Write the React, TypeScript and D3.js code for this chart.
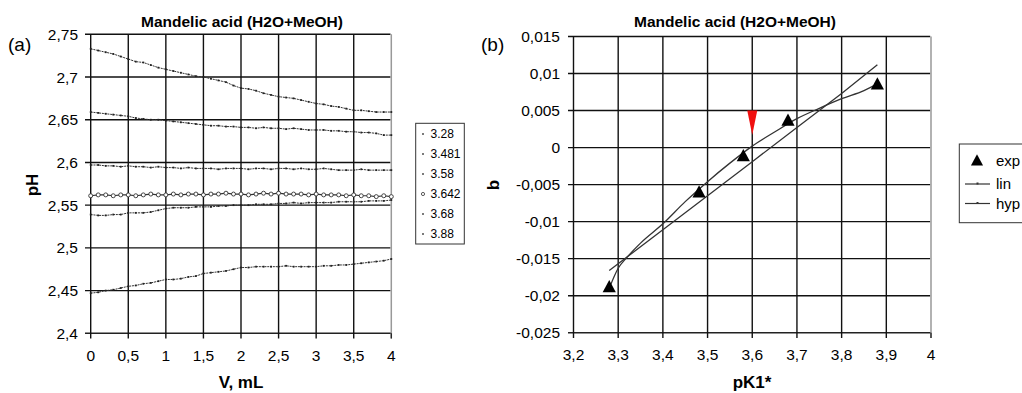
import React from "react";
import * as d3 from "d3";

// ---------- Panel (a) data ----------
const V = [0, 0.1, 0.2, 0.3, 0.4, 0.5, 0.6, 0.7, 0.8, 0.9, 1.0, 1.1, 1.2, 1.3, 1.4, 1.5, 1.6, 1.7, 1.8, 1.9, 2.0,
  2.1, 2.2, 2.3, 2.4, 2.5, 2.6, 2.7, 2.8, 2.9, 3.0, 3.1, 3.2, 3.3, 3.4, 3.5, 3.6, 3.7, 3.8, 3.9, 4.0];
const pH_328 = [2.733, 2.731, 2.729, 2.727, 2.724, 2.721, 2.718, 2.717, 2.714, 2.711, 2.709, 2.707, 2.705, 2.703, 2.701, 2.700, 2.698, 2.696, 2.694, 2.690, 2.687,
  2.686, 2.684, 2.681, 2.679, 2.677, 2.676, 2.675, 2.673, 2.671, 2.669, 2.668, 2.666, 2.665, 2.663, 2.661, 2.661, 2.660, 2.659, 2.659, 2.659];
const pH_3481 = [2.659, 2.658, 2.657, 2.656, 2.655, 2.654, 2.652, 2.651, 2.650, 2.650, 2.649, 2.648, 2.647, 2.646, 2.645, 2.644, 2.643, 2.643, 2.642, 2.642, 2.641,
  2.641, 2.640, 2.641, 2.640, 2.640, 2.639, 2.640, 2.639, 2.638, 2.638, 2.638, 2.637, 2.637, 2.636, 2.636, 2.635, 2.635, 2.634, 2.632, 2.632];
const pH_358 = [2.597, 2.597, 2.596, 2.596, 2.595, 2.596, 2.595, 2.595, 2.594, 2.595, 2.594, 2.594, 2.593, 2.594, 2.593, 2.593, 2.593, 2.592, 2.593, 2.593, 2.593,
  2.592, 2.593, 2.593, 2.592, 2.593, 2.593, 2.592, 2.593, 2.592, 2.592, 2.593, 2.592, 2.591, 2.591, 2.591, 2.592, 2.591, 2.591, 2.591, 2.591];
const pH_3642 = [2.561, 2.562, 2.562, 2.561, 2.562, 2.562, 2.561, 2.562, 2.563, 2.562, 2.562, 2.563, 2.562, 2.563, 2.563, 2.562, 2.563, 2.563, 2.564, 2.563, 2.563,
  2.562, 2.563, 2.564, 2.563, 2.564, 2.563, 2.563, 2.563, 2.562, 2.563, 2.562, 2.562, 2.562, 2.561, 2.562, 2.561, 2.561, 2.560, 2.561, 2.560];
const pH_368 = [2.539, 2.538, 2.538, 2.539, 2.539, 2.541, 2.541, 2.541, 2.542, 2.544, 2.546, 2.547, 2.547, 2.547, 2.548, 2.548, 2.548, 2.549, 2.549, 2.550, 2.550,
  2.550, 2.551, 2.551, 2.551, 2.552, 2.552, 2.553, 2.552, 2.553, 2.553, 2.553, 2.553, 2.554, 2.554, 2.554, 2.554, 2.555, 2.555, 2.555, 2.556];
const pH_388 = [2.447, 2.448, 2.450, 2.451, 2.453, 2.455, 2.456, 2.458, 2.459, 2.461, 2.463, 2.463, 2.464, 2.466, 2.467, 2.470, 2.471, 2.472, 2.473, 2.475, 2.477,
  2.477, 2.478, 2.478, 2.478, 2.478, 2.479, 2.478, 2.478, 2.478, 2.478, 2.479, 2.479, 2.480, 2.480, 2.481, 2.482, 2.483, 2.484, 2.485, 2.487];
const seriesA = [pH_328, pH_3481, pH_358, pH_3642, pH_368, pH_388];
const legendA = ["3.28", "3.481", "3.58", "3.642", "3.68", "3.88"];
const xTicksA = [0, 0.5, 1, 1.5, 2, 2.5, 3, 3.5, 4];
const yTicksA = [2.4, 2.45, 2.5, 2.55, 2.6, 2.65, 2.7, 2.75];

// ---------- Panel (b) data ----------
const pK_exp = [3.28, 3.481, 3.58, 3.68, 3.88];
const b_exp = [-0.0189, -0.0061, -0.0012, 0.0036, 0.0085];
const pK_lin = [3.28, 3.4, 3.5, 3.6, 3.7, 3.8, 3.88];
const b_lin = [-0.0166, -0.0111, -0.0065, -0.0019, 0.0027, 0.0073, 0.0112];
const pK_hyp = [3.28, 3.30, 3.32, 3.35, 3.40, 3.45, 3.50, 3.55, 3.60, 3.65, 3.70, 3.75, 3.80, 3.85, 3.88];
const b_hyp = [-0.0190, -0.0163, -0.0148, -0.0129, -0.0103, -0.0073, -0.0046, -0.0021, 0.0002, 0.0021, 0.0039, 0.0053, 0.0066, 0.0077, 0.0086];
const redMarker = { pK: 3.6, top: 0.005, tip: 0.0017 };
const xTicksB = [3.2, 3.3, 3.4, 3.5, 3.6, 3.7, 3.8, 3.9, 4];
const yTicksB = [-0.025, -0.02, -0.015, -0.01, -0.005, 0, 0.005, 0.01, 0.015];
const legendB = ["exp", "lin", "hyp"];

const FONT = "'Liberation Sans', Arial, Helvetica, sans-serif";
const fmt = (v: number) => String(+v.toFixed(4)).replace(".", ",");

export default function App() {
  // panel a scales
  const xA = d3.scaleLinear().domain([0, 4]).range([90.7, 391.3]);
  const yA = d3.scaleLinear().domain([2.4, 2.75]).range([333.3, 34.3]);
  // panel b scales
  const xB = d3.scaleLinear().domain([3.2, 4]).range([573.5, 931]);
  const yB = d3.scaleLinear().domain([-0.025, 0.015]).range([332.7, 36.5]);

  const lineA = d3.line<number>().x((_, i) => xA(V[i])).y((d) => yA(d));
  const linePath = d3.line<number>().x((_, i) => xB(pK_lin[i])).y((d) => yB(d))(b_lin) || "";
  const hypPath = d3.line<number>().x((_, i) => xB(pK_hyp[i])).y((d) => yB(d)).curve(d3.curveMonotoneX)(b_hyp) || "";
  const tri = (cx: number, cy: number, s: number) =>
    `M${cx},${cy - s * 0.62}L${cx + s * 0.55},${cy + s * 0.4}L${cx - s * 0.55},${cy + s * 0.4}Z`;

  const gridColor = "#111";
  return (
    <svg width={1022} height={393} style={{ position: "absolute", left: 0, top: 0, background: "#fff" }} fontFamily={FONT}>
      {/* ===== Panel (a) ===== */}
      <text x={8} y={51} fontSize={19}>(a)</text>
      <text x={242} y={27} fontSize={15.5} fontWeight="bold" textAnchor="middle">Mandelic acid (H2O+MeOH)</text>
      {yTicksA.map((t) => (
        <g key={"ya" + t}>
          <line x1={85} x2={t === 2.4 ? 391.3 : 390.5} y1={yA(t)} y2={yA(t)} stroke={t === 2.4 ? "#222" : gridColor} strokeWidth={1.4} />
          <text x={78} y={yA(t) + 5.5} fontSize={15.5} textAnchor="end">{fmt(t)}</text>
        </g>
      ))}
      {xTicksA.map((t) => (
        <g key={"xa" + t}>
          <line x1={xA(t)} x2={xA(t)} y1={yA(2.75)} y2={338.5} stroke={t === 4 ? "#999" : gridColor} strokeWidth={t === 4 ? 1.5 : 1.4} />
          <text x={xA(t)} y={361} fontSize={15.5} textAnchor="middle">{fmt(t)}</text>
        </g>
      ))}
      <line x1={xA(4)} x2={xA(4)} y1={yA(2.4)} y2={338.5} stroke="#222" strokeWidth={1.3} />
      <text x={38} y={185} fontSize={17} fontWeight="bold" textAnchor="middle" transform="rotate(-90 38 185)">pH</text>
      <text x={241} y={388} fontSize={17} fontWeight="bold" textAnchor="middle">V, mL</text>
      {seriesA.map((s, k) => (
        <g key={"sa" + k}>
          <path d={lineA(s) || ""} fill="none" stroke="#333" strokeWidth={k === 3 ? 1.2 : 1} strokeDasharray={k === 3 ? undefined : "2 0.8"} />
          {k === 3
            ? s.map((d, i) => <circle key={i} cx={xA(V[i])} cy={yA(d)} r={2} fill="#fff" stroke="#333" strokeWidth={0.9} />)
            : s.map((d, i) => <rect key={i} x={xA(V[i]) - 0.9} y={yA(d) - 0.9} width={1.8} height={1.8} fill="#222" />)}
        </g>
      ))}
      {/* legend a */}
      <rect x={415.7} y={123.3} width={48.6} height={120.7} fill="#fff" stroke="#333" strokeWidth={1} />
      {legendA.map((l, i) => (
        <g key={"la" + l}>
          {i === 3
            ? <circle cx={423} cy={134 + i * 20} r={1.6} fill="#fff" stroke="#333" strokeWidth={0.8} />
            : <rect x={422.2} y={133.2 + i * 20} width={1.6} height={1.6} fill="#333" />}
          <text x={430.5} y={138.3 + i * 20} fontSize={12}>{l}</text>
        </g>
      ))}

      {/* ===== Panel (b) ===== */}
      <text x={481} y={51} fontSize={19}>(b)</text>
      <text x={735} y={27} fontSize={15.5} fontWeight="bold" textAnchor="middle">Mandelic acid (H2O+MeOH)</text>
      {yTicksB.map((t) => (
        <g key={"yb" + t}>
          <line x1={568} x2={t === -0.025 ? 931 : 930.2} y1={yB(t)} y2={yB(t)} stroke={t === -0.025 ? "#222" : gridColor} strokeWidth={1.4} />
          <text x={560} y={yB(t) + 5.5} fontSize={15.5} textAnchor="end">{fmt(t)}</text>
        </g>
      ))}
      {xTicksB.map((t) => (
        <g key={"xb" + t}>
          <line x1={xB(t)} x2={xB(t)} y1={yB(0.015)} y2={338} stroke={t === 4 ? "#999" : gridColor} strokeWidth={t === 4 ? 1.5 : 1.4} />
          <text x={xB(t)} y={360} fontSize={15.5} textAnchor="middle">{fmt(t)}</text>
        </g>
      ))}
      <line x1={xB(4)} x2={xB(4)} y1={yB(-0.025)} y2={338} stroke="#222" strokeWidth={1.3} />
      <text x={499} y={185} fontSize={17} fontWeight="bold" textAnchor="middle" transform="rotate(-90 499 185)">b</text>
      <text x={752} y={388} fontSize={17} fontWeight="bold" textAnchor="middle">pK1*</text>
      <path d={linePath} fill="none" stroke="#333" strokeWidth={1.3} />
      <path d={hypPath} fill="none" stroke="#333" strokeWidth={1.3} />
      {b_exp.map((d, i) => (
        <path key={"e" + i} d={tri(xB(pK_exp[i]), yB(d), 12)} fill="#000" />
      ))}
      <path
        d={`M${xB(redMarker.pK) - 5},${yB(redMarker.top)}L${xB(redMarker.pK) + 5},${yB(redMarker.top)}L${xB(redMarker.pK)},${yB(redMarker.tip)}Z`}
        fill="#f01010"
      />
      {/* legend b */}
      <rect x={959.3} y={144} width={80} height={78.7} fill="#fff" stroke="#333" strokeWidth={1} />
      <path d={tri(977, 161, 11)} fill="#000" />
      <line x1={965} x2={990} y1={184} y2={184} stroke="#333" strokeWidth={1.2} />
      <rect x={976.5} y={182.5} width={2} height={2} fill="#333" />
      <line x1={965} x2={990} y1={203.5} y2={203.5} stroke="#333" strokeWidth={1.2} />
      <rect x={976.5} y={202} width={2} height={2} fill="#333" />
      {legendB.map((l, i) => (
        <text key={"lb" + l} x={996} y={[166, 189, 208.5][i]} fontSize={15}>{l}</text>
      ))}
    </svg>
  );
}
